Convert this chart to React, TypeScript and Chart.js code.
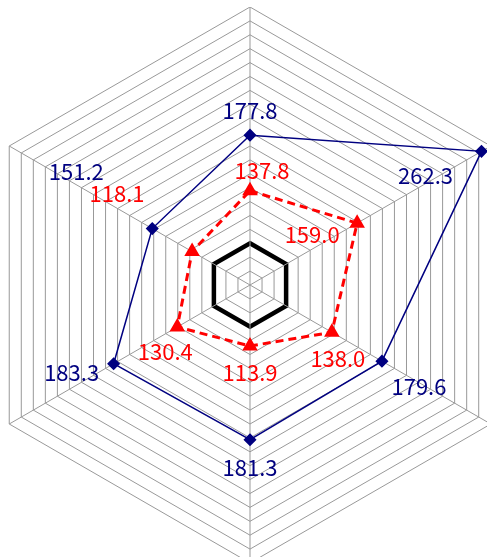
import React, { useEffect, useRef } from "react";
import { Chart, registerables } from "chart.js";

Chart.register(...registerables);

const categories = ["A", "B", "C", "D", "E", "F"];
const blueValues = [177.8, 262.3, 179.6, 181.3, 183.3, 151.2];
const redValues = [137.8, 159.0, 138.0, 113.9, 130.4, 118.1];
const scaleMin = 70;
const scaleMax = 270;
const scaleStep = 10;
const highlightValue = 100;

// label offsets (px) relative to each point
const blueLabelOffsets = [[0, -25], [-56, 24], [37, 25], [0, 28], [-42, 9], [-76, -57]];
const redLabelOffsets = [[12, -20], [-45, 11], [6, 26], [0, 27], [-12, 25], [-75, -58]];

const labelPlugin = {
  id: "valueLabels",
  afterDatasetsDraw(chart: any) {
    const ctx = chart.ctx;
    ctx.save();
    ctx.font = '22px "Noto Sans CJK JP", sans-serif';
    ctx.textAlign = "center";
    ctx.textBaseline = "middle";
    chart.data.datasets.forEach((ds: any, di: number) => {
      const meta = chart.getDatasetMeta(di);
      const offs = ds.labelOffsets;
      meta.data.forEach((pt: any, i: number) => {
        ctx.fillStyle = ds.labelColor;
        ctx.fillText(ds.data[i].toFixed(1), pt.x + offs[i][0], pt.y + offs[i][1]);
      });
    });
    ctx.restore();
  },
};

export default function App() {
  const ref = useRef<HTMLCanvasElement>(null);
  useEffect(() => {
    if (!ref.current) return;
    const chart = new Chart(ref.current, {
      type: "radar",
      data: {
        labels: categories,
        datasets: [
          {
            label: "blue",
            data: blueValues,
            borderColor: "#000080",
            backgroundColor: "#000080",
            borderWidth: 1.5,
            fill: false,
            pointStyle: "rectRot",
            pointRadius: 5.5,
            pointBackgroundColor: "#000080",
            pointBorderColor: "#000080",
            labelColor: "#000080",
            labelOffsets: blueLabelOffsets,
          } as any,
          {
            label: "red",
            data: redValues,
            borderColor: "#FF0000",
            backgroundColor: "#FF0000",
            borderWidth: 3,
            borderDash: [8, 5],
            fill: false,
            pointStyle: "triangle",
            pointRadius: 6,
            pointBackgroundColor: "#FF0000",
            pointBorderColor: "#FF0000",
            labelColor: "#FF0000",
            labelOffsets: redLabelOffsets,
          } as any,
        ],
      },
      options: {
        responsive: false,
        animation: false,
        layout: { padding: 0 },
        plugins: { legend: { display: false }, tooltip: { enabled: false } },
        elements: { line: { tension: 0 } },
        scales: {
          r: {
            min: scaleMin,
            max: scaleMax,
            ticks: { stepSize: scaleStep, display: false },
            pointLabels: { display: false },
            angleLines: { color: "#999999", lineWidth: 1 },
            grid: {
              color: (c: any) => (c.tick && c.tick.value === highlightValue ? "#000000" : "#999999"),
              lineWidth: (c: any) => (c.tick && c.tick.value === highlightValue ? 4.5 : 1),
            },
          },
        },
      },
      plugins: [labelPlugin],
    });
    return () => chart.destroy();
  }, []);
  return (
    <div style={{ position: "fixed", left: 0, top: 0, width: 487, height: 557, overflow: "hidden", background: "#fff" }}>
      <canvas ref={ref} width={556} height={556} style={{ position: "absolute", left: -28, top: 7 }} />
    </div>
  );
}
